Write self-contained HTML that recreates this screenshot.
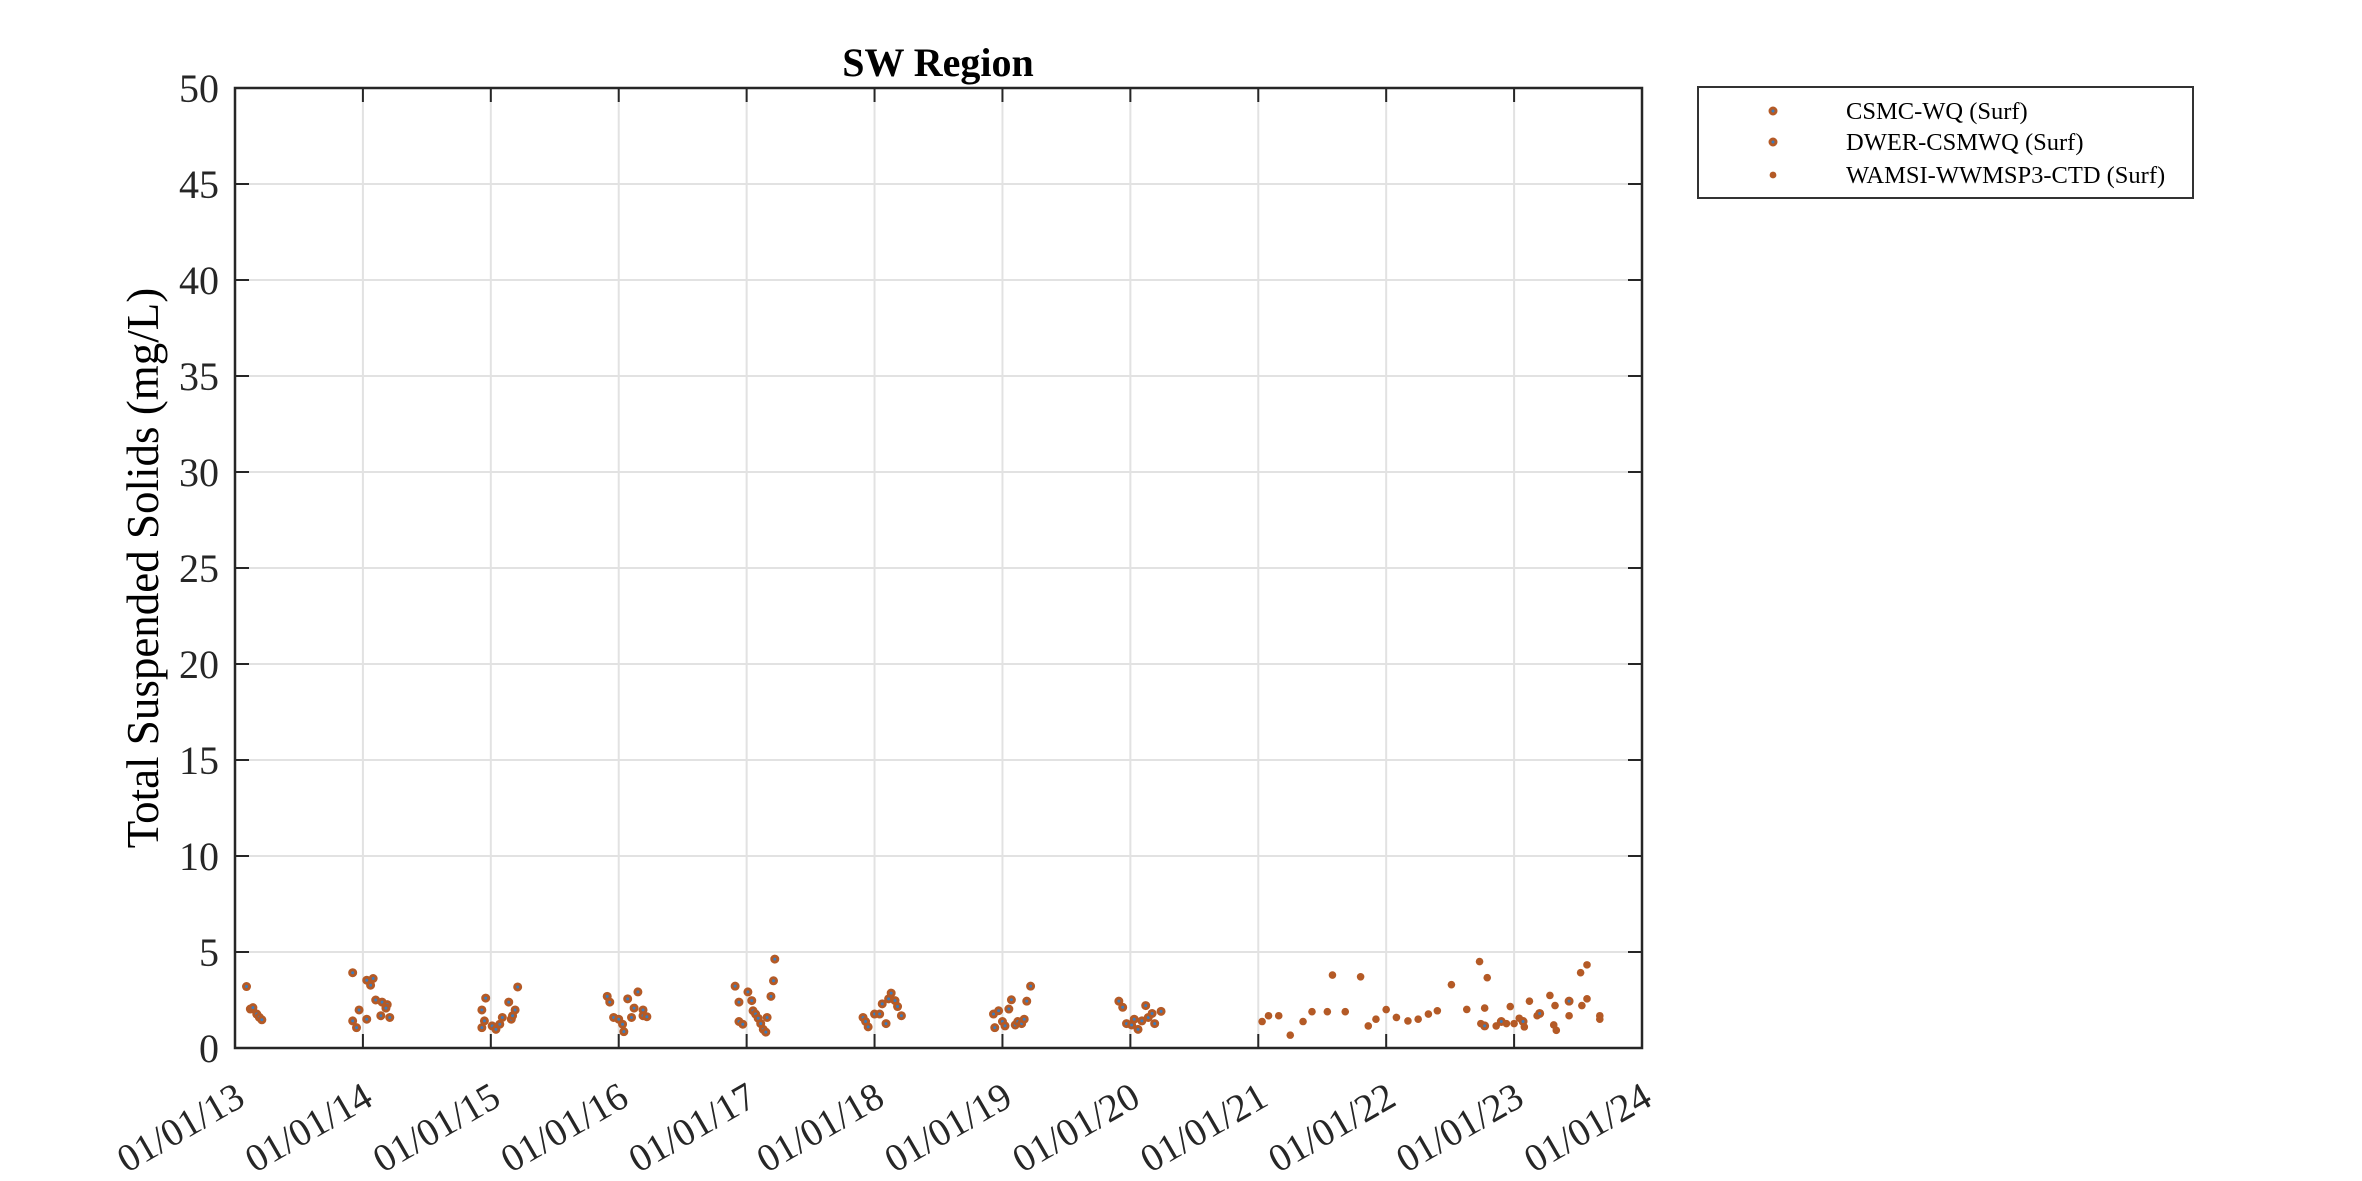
<!DOCTYPE html>
<html><head><meta charset="utf-8"><style>
html,body{margin:0;padding:0;background:#fff;}
svg{display:block;font-family:"Liberation Serif",serif;}
</style></head><body>
<svg id="chart" width="2362" height="1181" viewBox="0 0 2362 1181" xmlns="http://www.w3.org/2000/svg">
<rect x="0" y="0" width="2362" height="1181" fill="#fff"/>
<g id="grid"></g>
<g id="marks"></g>
<g id="axes"></g>
<text x="938" y="76" text-anchor="middle" font-size="40" font-weight="bold" fill="#000">SW Region</text>
<text transform="translate(158,568) rotate(-90)" text-anchor="middle" font-size="45" fill="#000">Total Suspended Solids (mg/L)</text>
<g transform="translate(-18,0)">
<rect x="1716" y="87" width="495" height="111" fill="#fff" stroke="#333" stroke-width="2"/>
<g>
<circle cx="1791" cy="111" r="3" fill="#3a7cbd" stroke="#b45a26" stroke-width="3"/>
<text x="1864" y="119" font-size="24.5" fill="#000">CSMC-WQ (Surf)</text></g>
<g>
<circle cx="1791" cy="142" r="3" fill="#3a7cbd" stroke="#b45a26" stroke-width="3"/>
<text x="1864" y="150" font-size="24.5" fill="#000">DWER-CSMWQ (Surf)</text></g>
<g>
<circle cx="1791" cy="175" r="3.4" fill="#b45a26"/>
<text x="1864" y="183" font-size="24.5" fill="#000">WAMSI-WWMSP3-CTD (Surf)</text></g>
</g>
</svg>
<script>
const yTicks=[0,5,10,15,20,25,30,35,40,45,50];
const xTickLabels=["01/01/13","01/01/14","01/01/15","01/01/16","01/01/17","01/01/18","01/01/19","01/01/20","01/01/21","01/01/22","01/01/23","01/01/24"];
const csmcT=[0.09,0.12,0.14,0.17,0.19,0.21,0.92,0.97,0.92,0.95,1.03,1.08,1.06,1.03,1.10,1.15,1.19,1.18,1.14,1.21,1.93,1.93,1.96,1.95,2.01,2.04,2.07,2.09,2.14,2.16,2.19,2.21,2.17,2.91,2.93,2.96,3.0,3.03,3.04,3.07,3.10,3.12,3.15,3.19,3.19,3.22,3.91,3.94,3.94,3.97,4.01,4.04,4.05,4.07,4.09,4.11,4.13,4.15,4.16,4.19,4.21,4.22,4.91,4.93,4.95,5.0,5.04,5.06,5.09,5.11,5.13,5.16,5.18,5.21,5.93,5.94,5.97,6.0,6.02,6.05,6.07,6.10,6.12,6.15,6.17,6.19,6.22,6.91,6.94,6.97,7.01,7.03,7.06,7.09,7.12,7.14,7.17,7.19,7.24];
const csmcV=[3.2,2.03,2.1,1.77,1.6,1.47,3.92,1.98,1.41,1.06,3.53,3.62,3.27,1.5,2.5,2.39,2.26,2.08,1.68,1.59,1.06,1.98,2.6,1.41,1.15,0.97,1.24,1.59,2.39,1.5,1.98,3.18,1.68,2.69,2.39,1.59,1.5,1.24,0.85,2.56,1.59,2.08,2.92,1.98,1.68,1.63,3.22,2.39,1.38,1.24,2.92,2.47,1.94,1.77,1.55,1.27,0.97,0.83,1.59,2.69,3.5,4.63,1.59,1.38,1.1,1.77,1.77,2.3,1.27,2.56,2.86,2.47,2.16,1.68,1.77,1.06,1.94,1.38,1.15,2.03,2.51,1.2,1.38,1.27,1.5,2.44,3.22,2.44,2.12,1.27,1.2,1.5,0.97,1.41,2.21,1.59,1.8,1.27,1.91];
const dwerT=[9.77,9.90,10.07,10.20,10.43];
const dwerV=[1.15,1.38,1.38,1.8,2.44];
const wamsiT=[8.03,8.08,8.16,8.25,8.35,8.42,8.54,8.58,8.68,8.80,8.86,8.92,9.0,9.08,9.17,9.25,9.33,9.40,9.51,9.63,9.74,9.73,9.77,9.79,9.86,9.94,9.97,10.0,10.04,10.08,10.12,10.18,10.28,10.32,10.31,10.33,10.43,10.52,10.53,10.57,10.57,10.67,10.67];
const wamsiV=[1.38,1.68,1.68,0.67,1.38,1.89,1.89,3.8,1.89,3.71,1.15,1.5,2.0,1.59,1.41,1.5,1.77,1.94,3.3,2.01,1.27,4.5,2.08,3.66,1.15,1.27,2.16,1.27,1.55,1.1,2.44,1.68,2.74,2.21,1.2,0.92,1.68,3.92,2.21,4.33,2.56,1.68,1.5];
const NS="http://www.w3.org/2000/svg";
const L=235,R=1642,T=88,B=1048,X0=0,X1=11,Y0=0,Y1=50;
function xs(t){return L+(t-X0)/(X1-X0)*(R-L);}
function ys(v){return B-(v-Y0)/(Y1-Y0)*(B-T);}
function mk(tag,attrs,parent){const e=document.createElementNS(NS,tag);for(const k in attrs)e.setAttribute(k,attrs[k]);parent.appendChild(e);return e;}
const grid=document.getElementById('grid'),axes=document.getElementById('axes'),marks=document.getElementById('marks');
yTicks.forEach(v=>{
 const y=ys(v);
 const g=mk('line',{x1:L,x2:R,y1:y,y2:y,stroke:'#e2e2e2','stroke-width':2},grid);
 
 
 const t1=mk('line',{x1:L,x2:L+14,y1:y,y2:y,stroke:'#262626','stroke-width':2},axes);
 
 
 const t2=mk('line',{x1:R-14,x2:R,y1:y,y2:y,stroke:'#262626','stroke-width':2},axes);
 
 
 const lb=mk('text',{x:219,y:y+14,'text-anchor':'end','font-size':40,fill:'#262626'},axes);
 lb.textContent=v;
 
 
});
xTickLabels.forEach((s,i)=>{
 const x=xs(i);
 const g=mk('line',{x1:x,x2:x,y1:T,y2:B,stroke:'#e2e2e2','stroke-width':2},grid);
 
 
 const t1=mk('line',{x1:x,x2:x,y1:B-14,y2:B,stroke:'#262626','stroke-width':2},axes);
 
 
 const t2=mk('line',{x1:x,x2:x,y1:T,y2:T+14,stroke:'#262626','stroke-width':2},axes);
 
 
 const lb=mk('text',{transform:`translate(${x+12},1104) rotate(-30)`,'text-anchor':'end','font-size':39,fill:'#262626'},axes);
 lb.textContent=s;
 
 
});
const frame=mk('rect',{x:L,y:T,width:R-L,height:B-T,fill:'none',stroke:'#262626','stroke-width':2.5},axes);


csmcT.forEach((t,i)=>{
 const c=mk('circle',{cx:xs(t),cy:ys(csmcV[i]),r:3,fill:'#3a7cbd',stroke:'#b45a26','stroke-width':3},marks);
 
 
});
wamsiT.forEach((t,i)=>{
 const c=mk('circle',{cx:xs(t),cy:ys(wamsiV[i]),r:3.8,fill:'#b45a26'},marks);
 
 
});
dwerT.forEach((t,i)=>{
 const c=mk('circle',{cx:xs(t),cy:ys(dwerV[i]),r:3,fill:'#3a7cbd',stroke:'#b45a26','stroke-width':3},marks);
 
 
});
</script>
</body></html>
